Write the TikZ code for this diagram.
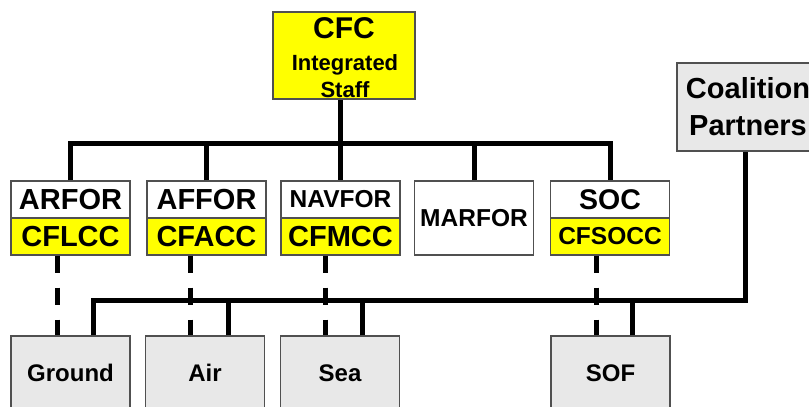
\documentclass[tikz,border=0pt]{standalone}
\usepackage{fontspec}
\setmainfont{Liberation Sans}
\usetikzlibrary{calc}
\definecolor{boxgray}{RGB}{232,232,232}
\definecolor{edgegray}{RGB}{80,80,80}
\definecolor{cyel}{RGB}{255,255,0}
\tikzset{
 half/.style={draw=edgegray, line width=1.2pt, minimum width=119pt, minimum height=37pt, inner sep=0pt, font=\bfseries\fontsize{29}{34}\selectfont},
 yel/.style={half, fill=cyel},
 wht/.style={half, fill=white},
 gbox/.style={draw=edgegray, line width=1.2pt, fill=boxgray, minimum width=119pt, minimum height=74pt, inner sep=0pt, font=\bfseries\fontsize{24}{28}\selectfont},
 bus/.style={line width=5pt, line join=miter},
 dline/.style={line width=5pt, dash pattern=on 17.5pt off 14.5pt},
 sz/.style={font=\bfseries\fontsize{#1}{#1}\selectfont},
 lbl/.style={anchor=base, inner sep=0pt}
}
\begin{document}
\begin{tikzpicture}[x=1pt,y=-1pt]
\clip (0,0) rectangle (809,407);
\fill[white] (0,0) rectangle (809,407);
% CFC
\node[draw=edgegray, line width=1.2pt, fill=cyel, minimum width=142pt, minimum height=87pt] (cfc) at (344,55.5) {};
\node[lbl, sz=30] (cfct) at (344,38.5) {CFC};
\node[lbl, sz=22] (cfci) at (345,70) {Integrated};
\node[lbl, sz=22] (cfcs) at (345,97) {Staff};
% component row
\node[wht] (arfor) at (70.5,199.5) {ARFOR};
\node[yel] (cflcc) at (70.5,236.5) {CFLCC};
\node[wht] (affor) at (206.5,199.5) {AFFOR};
\node[yel] (cfacc) at (206.5,236.5) {CFACC};
\node[wht, sz=24.5] (navfor) at (340.5,199.5) {NAVFOR};
\node[yel] (cfmcc) at (340.5,236.5) {CFMCC};
\node[wht, sz=24.5, minimum height=74pt] (marfor) at (474,218) {MARFOR};
\node[wht, sz=28.5] (soc) at (610,199.5) {SOC};
\node[yel, sz=24.5] (cfsocc) at (610,236.5) {CFSOCC};
% coalition
\node[gbox, minimum width=142pt, minimum height=88pt, align=center, font=\bfseries\fontsize{29}{37}\selectfont] (coal) at (748,107) {Coalition\\Partners};
% forces
\node[gbox] (ground) at (70.5,373) {Ground};
\node[gbox] (air) at (205,373) {Air};
\node[gbox] (sea) at (340,373) {Sea};
\node[gbox] (sof) at (610.5,373) {SOF};
% top bus
\coordinate (topbus) at (0,143);
\draw[bus] (arfor.north) -- (arfor.north |- topbus) -- (soc.north |- topbus) -- (soc.north);
\draw[bus] (affor.north) -- (affor.north |- topbus);
\draw[bus] (marfor.north) -- (marfor.north |- topbus);
\draw[bus] (cfc.south -| navfor.north) -- (navfor.north);
% bottom bus
\coordinate (lowbus) at (0,300);
\coordinate (gd) at ($(ground.north)+(22.5,0)$);
\coordinate (ad) at ($(air.north)+(23,0)$);
\coordinate (sd) at ($(sea.north)+(22,0)$);
\coordinate (fd) at ($(sof.north)+(21.5,0)$);
\coordinate (cd) at ($(coal.south)+(-3,0)$);
\draw[bus] (gd) -- (gd |- lowbus) -- (cd |- lowbus) -- (cd);
\draw[bus] (ad) -- (ad |- lowbus);
\draw[bus] (sd) -- (sd |- lowbus);
\draw[bus] (fd) -- (fd |- lowbus);
% dashed links
\draw[dline] ($(cflcc.south)+(-13.5,0)$) -- ($(ground.north)+(-13.5,0)$);
\draw[dline] ($(cfacc.south)+(-16.5,0)$) -- ($(air.north)+(-15,0)$);
\draw[dline] ($(cfmcc.south)+(-15.5,0)$) -- ($(sea.north)+(-15,0)$);
\draw[dline] ($(cfsocc.south)+(-14,0)$) -- ($(sof.north)+(-14.5,0)$);
\end{tikzpicture}
\end{document}
